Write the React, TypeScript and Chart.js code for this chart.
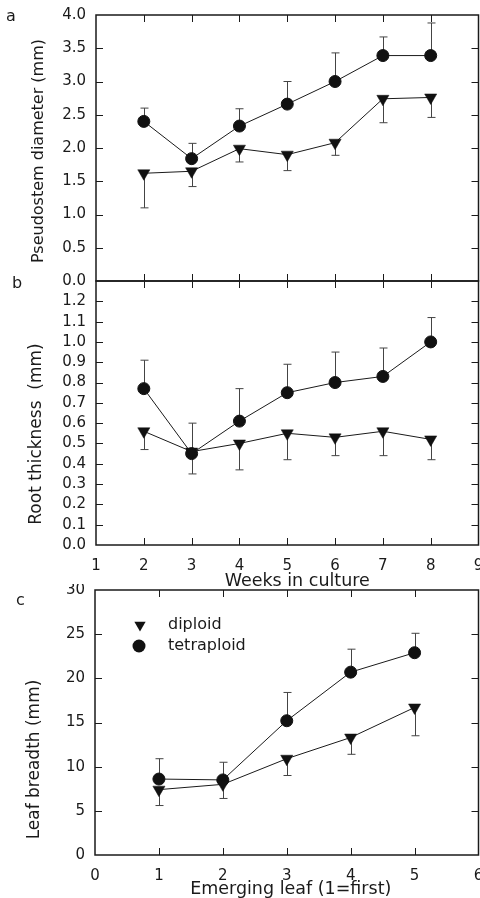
import React, { useEffect, useRef } from 'react';
import { Chart, registerables } from 'chart.js';

Chart.register(...registerables);

// ---------- data ----------
const weeks = [2, 3, 4, 5, 6, 7, 8];
const diameterDiploid = [1.62, 1.65, 1.99, 1.9, 2.08, 2.74, 2.76];
const diameterDiploidLow = [1.1, 1.42, 1.79, 1.66, 1.89, 2.38, 2.46];
const diameterTetraploid = [2.4, 1.84, 2.33, 2.66, 3.0, 3.39, 3.39];
const diameterTetraploidHigh = [2.6, 2.07, 2.59, 3.0, 3.43, 3.67, 3.88];

const rootDiploid = [0.56, 0.46, 0.5, 0.55, 0.53, 0.56, 0.52];
const rootDiploidLow = [0.47, 0.35, 0.37, 0.42, 0.44, 0.44, 0.42];
const rootTetraploid = [0.77, 0.45, 0.61, 0.75, 0.8, 0.83, 1.0];
const rootTetraploidHigh = [0.91, 0.6, 0.77, 0.89, 0.95, 0.97, 1.12];

const leaves = [1, 2, 3, 4, 5];
const leafDiploid = [7.4, 8.0, 10.9, 13.3, 16.7];
const leafDiploidLow = [5.6, 6.4, 9.0, 11.4, 13.5];
const leafTetraploid = [8.6, 8.5, 15.2, 20.7, 22.9];
const leafTetraploidHigh = [10.9, 10.5, 18.4, 23.3, 25.1];

const seriesLabels = ['diploid', 'tetraploid'];
const panelLetters = ['a', 'b', 'c'];
const titleDiameter = 'Pseudostem diameter (mm)';
const titleRoot = 'Root thickness  (mm)';
const titleLeaf = 'Leaf breadth (mm)';
const titleWeeks = 'Weeks in culture';
const titleEmerging = 'Emerging leaf (1=first)';

// ---------- styling ----------
const FONT_FAMILY = '"DejaVu Sans", "Liberation Sans", sans-serif';
const INK = '#1a1a1a';
const ERR = '#444';

const framePlugin = {
  id: 'frameTicks',
  beforeDatasetsDraw(chart: any) {
    const { ctx, chartArea } = chart;
    const { left, right, top, bottom } = chartArea;
    const xs = chart.scales.x;
    const ys = chart.scales.y;
    ctx.save();
    ctx.strokeStyle = INK;
    ctx.lineWidth = 1.5;
    ctx.strokeRect(left, top, right - left, bottom - top);
    ctx.lineWidth = 1;
    const L = 7;
    ctx.beginPath();
    xs.ticks.forEach((t: any) => {
      const px = Math.round(xs.getPixelForValue(t.value)) + 0.5;
      if (px <= left + 2 || px >= right - 2) return;
      ctx.moveTo(px, bottom);
      ctx.lineTo(px, bottom - L);
      ctx.moveTo(px, top);
      ctx.lineTo(px, top + L);
    });
    ys.ticks.forEach((t: any) => {
      const py = Math.round(ys.getPixelForValue(t.value)) + 0.5;
      if (py <= top + 2 || py >= bottom - 2) return;
      ctx.moveTo(left, py);
      ctx.lineTo(left + L, py);
      ctx.moveTo(right, py);
      ctx.lineTo(right - L, py);
    });
    ctx.stroke();
    ctx.restore();
  },
};

const errorBarPlugin = {
  id: 'errorBars',
  beforeDatasetsDraw(chart: any) {
    const { ctx } = chart;
    ctx.save();
    ctx.strokeStyle = ERR;
    ctx.lineWidth = 1;
    chart.data.datasets.forEach((ds: any, i: number) => {
      const ends = ds.errorEnds as number[] | undefined;
      if (!ends) return;
      const meta = chart.getDatasetMeta(i);
      const ys = chart.scales[meta.yAxisID];
      meta.data.forEach((pt: any, j: number) => {
        const x = Math.round(pt.x) + 0.5;
        const y1 = ys.getPixelForValue(ends[j]);
        ctx.beginPath();
        ctx.moveTo(x, pt.y);
        ctx.lineTo(x, y1);
        ctx.moveTo(x - 4, y1);
        ctx.lineTo(x + 4, y1);
        ctx.stroke();
      });
    });
    ctx.restore();
  },
};

const legendPlugin = {
  id: 'insideLegend',
  afterDatasetsDraw(chart: any) {
    const { ctx, chartArea } = chart;
    const mx = chartArea.left + 45;
    const tx = chartArea.left + 73;
    const y0 = chartArea.top + 35;
    const gap = 21;
    ctx.save();
    ctx.fillStyle = '#111';
    const r = 6.5;
    ctx.beginPath();
    ctx.moveTo(mx, y0 + r);
    ctx.lineTo(mx - r * 0.866, y0 - r * 0.5);
    ctx.lineTo(mx + r * 0.866, y0 - r * 0.5);
    ctx.closePath();
    ctx.fill();
    ctx.beginPath();
    ctx.arc(mx - 1, y0 + gap, 6.5, 0, Math.PI * 2);
    ctx.fill();
    ctx.fillStyle = INK;
    ctx.font = `16px ${FONT_FAMILY}`;
    ctx.textBaseline = 'middle';
    ctx.textAlign = 'left';
    ctx.fillText(seriesLabels[0], tx, y0);
    ctx.fillText(seriesLabels[1], tx, y0 + gap);
    ctx.restore();
  },
};

type PanelSpec = {
  top: number;
  height: number;
  padTop: number;
  xAxisHeight: number;
  yAxisWidth: number;
  xs: number[];
  diploid: number[];
  diploidErr: number[];
  tetraploid: number[];
  tetraploidErr: number[];
  xMin: number;
  xMax: number;
  yMin: number;
  yMax: number;
  yStep: number;
  yDecimals: number;
  yHideAbove?: number;
  yTitle: string;
  yTitleX: number;
  yTitleShift: number;
  yTitleSize: number;
  xTitle?: string;
  xTitleDx: number;
  xTitleDy: number;
  xLabelPad: number;
  showXLabels: boolean;
  legend?: boolean;
};

const panels: PanelSpec[] = [
  {
    top: 0, height: 295, padTop: 15, xAxisHeight: 14, yAxisWidth: 96,
    xs: weeks, diploid: diameterDiploid, diploidErr: diameterDiploidLow,
    tetraploid: diameterTetraploid, tetraploidErr: diameterTetraploidHigh,
    xMin: 1, xMax: 9, yMin: 0, yMax: 4, yStep: 0.5, yDecimals: 1,
    yTitle: titleDiameter, yTitleX: 38.5, yTitleShift: 3, yTitleSize: 16,
    showXLabels: false, xLabelPad: 8, xTitleDx: 0, xTitleDy: 0,
  },
  {
    top: 275, height: 320, padTop: 6, xAxisHeight: 50, yAxisWidth: 96,
    xs: weeks, diploid: rootDiploid, diploidErr: rootDiploidLow,
    tetraploid: rootTetraploid, tetraploidErr: rootTetraploidHigh,
    xMin: 1, xMax: 9, yMin: 0, yMax: 1.3, yStep: 0.1, yDecimals: 1, yHideAbove: 1.25,
    yTitle: titleRoot, yTitleX: 36.5, yTitleShift: 21, yTitleSize: 17,
    xTitle: titleWeeks, xTitleDx: 10, xTitleDy: 36, showXLabels: true, xLabelPad: 12,
  },
  {
    top: 584, height: 314, padTop: 6, xAxisHeight: 43, yAxisWidth: 95,
    xs: leaves, diploid: leafDiploid, diploidErr: leafDiploidLow,
    tetraploid: leafTetraploid, tetraploidErr: leafTetraploidHigh,
    xMin: 0, xMax: 6, yMin: 0, yMax: 30, yStep: 5, yDecimals: 0,
    yTitle: titleLeaf, yTitleX: 35, yTitleShift: 37, yTitleSize: 17,
    xTitle: titleEmerging, xTitleDx: 4, xTitleDy: 34, showXLabels: true, xLabelPad: 12,
  },
];
panels[2].legend = true;

function makeTitlePlugin(p: PanelSpec) {
  return {
    id: 'axisTitles',
    afterDraw(chart: any) {
      const { ctx, chartArea } = chart;
      const { left, right, top, bottom } = chartArea;
      ctx.save();
      ctx.fillStyle = INK;
      ctx.textAlign = 'center';
      ctx.textBaseline = 'middle';
      // y title
      ctx.font = `${p.yTitleSize}px ${FONT_FAMILY}`;
      ctx.save();
      ctx.translate(p.yTitleX, (top + bottom) / 2 + p.yTitleShift);
      ctx.rotate(-Math.PI / 2);
      ctx.fillText(p.yTitle, 0, 0);
      ctx.restore();
      // x title
      if (p.xTitle) {
        ctx.font = `17.5px ${FONT_FAMILY}`;
        ctx.fillText(p.xTitle, (left + right) / 2 + p.xTitleDx, bottom + p.xTitleDy);
      }
      ctx.restore();
    },
  };
}

function buildChart(canvas: HTMLCanvasElement, p: PanelSpec) {
  const tickFont = { family: FONT_FAMILY, size: 15 };
  const noScalePadding = (s: any) => {
    s.paddingLeft = 0;
    s.paddingRight = 0;
    s.paddingTop = 0;
    s.paddingBottom = 0;
  };
  const plugins: any[] = [framePlugin, errorBarPlugin, makeTitlePlugin(p)];
  if (p.legend) plugins.push(legendPlugin);
  return new Chart(canvas, {
    type: 'line',
    data: {
      datasets: [
        {
          label: seriesLabels[0],
          data: p.xs.map((x, i) => ({ x, y: p.diploid[i] })),
          errorEnds: p.diploidErr,
          borderColor: INK,
          borderWidth: 1,
          pointStyle: 'triangle',
          pointRotation: 180,
          pointRadius: 7,
          pointBackgroundColor: '#111',
          pointBorderColor: '#111',
          pointBorderWidth: 0.5,
          clip: false,
        } as any,
        {
          label: seriesLabels[1],
          data: p.xs.map((x, i) => ({ x, y: p.tetraploid[i] })),
          errorEnds: p.tetraploidErr,
          borderColor: INK,
          borderWidth: 1,
          pointStyle: 'circle',
          pointRadius: 6,
          pointBackgroundColor: '#111',
          pointBorderColor: '#111',
          pointBorderWidth: 1,
          clip: false,
        } as any,
      ],
    },
    options: {
      responsive: false,
      animation: false,
      events: [],
      layout: { autoPadding: false, padding: { top: p.padTop, right: 1.5, left: 0, bottom: 0 } },
      plugins: { legend: { display: false }, tooltip: { enabled: false } },
      scales: {
        x: {
          type: 'linear',
          min: p.xMin,
          max: p.xMax,
          grid: { display: false, drawTicks: false },
          border: { display: false },
          ticks: {
            stepSize: 1,
            autoSkip: false,
            display: p.showXLabels,
            padding: p.xLabelPad,
            color: INK,
            font: tickFont,
            maxRotation: 0,
            callback: (v: any) => String(v),
          },
          title: { display: false },
          afterFit: (s: any) => {
            s.height = p.xAxisHeight;
            noScalePadding(s);
          },
        },
        y: {
          type: 'linear',
          min: p.yMin,
          max: p.yMax,
          grid: { display: false, drawTicks: false },
          border: { display: false },
          ticks: {
            stepSize: p.yStep,
            autoSkip: false,
            padding: 10,
            color: INK,
            font: tickFont,
            callback: (v: any) => {
              const n = Number(v);
              if (p.yHideAbove !== undefined && n > p.yHideAbove) return '';
              return n.toFixed(p.yDecimals);
            },
          },
          title: { display: false },
          afterFit: (s: any) => {
            s.width = p.yAxisWidth;
            noScalePadding(s);
          },
        },
      },
    } as any,
    plugins,
  });
}

function Panel({ spec }: { spec: PanelSpec }) {
  const ref = useRef<HTMLCanvasElement | null>(null);
  useEffect(() => {
    if (!ref.current) return;
    const chart = buildChart(ref.current, spec);
    return () => chart.destroy();
  }, [spec]);
  return (
    <canvas
      ref={ref}
      width={480}
      height={spec.height}
      style={{ position: 'absolute', left: 0, top: spec.top, width: 480, height: spec.height, display: 'block' }}
    />
  );
}

const letterPos = [
  { x: 11, y: 16 },
  { x: 17, y: 283 },
  { x: 21, y: 600 },
];

export default function App() {
  return (
    <div
      style={{
        position: 'absolute',
        left: 0,
        top: 0,
        width: 480,
        height: 898,
        background: '#fff',
        overflow: 'hidden',
        fontFamily: FONT_FAMILY,
      }}
    >
      {panels.map((p, i) => (
        <Panel key={i} spec={p} />
      ))}
      {panelLetters.map((l, i) => (
        <span
          key={l}
          style={{
            position: 'absolute',
            left: letterPos[i].x - 5,
            top: letterPos[i].y - 10,
            fontSize: 16,
            lineHeight: '20px',
            color: INK,
            zIndex: 5,
          }}
        >
          {l}
        </span>
      ))}
    </div>
  );
}
